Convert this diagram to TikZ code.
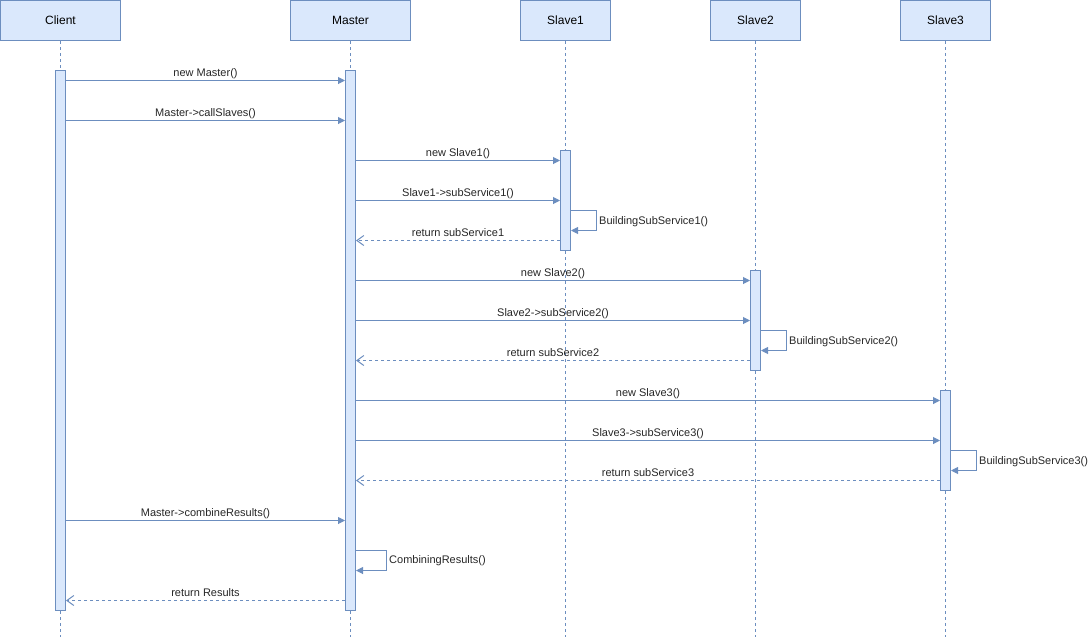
\documentclass[tikz,border=0pt]{standalone}
\usepackage{fontspec}
\setmainfont{Liberation Sans}
\usetikzlibrary{arrows.meta}
\definecolor{fillb}{HTML}{DAE8FC}
\definecolor{strokeb}{HTML}{6C8EBF}
\begin{document}
\begin{tikzpicture}[x=1pt,y=-1pt,
  head/.style={draw=strokeb, fill=fillb, line width=1pt, minimum height=40pt, inner sep=0pt, font=\fontsize{12}{14}\selectfont},
  act/.style={draw=strokeb, fill=fillb, line width=1pt, minimum width=10pt, inner sep=0pt},
  life/.style={draw=strokeb, line width=1pt, dash pattern=on 3pt off 3pt},
  msg/.style={draw=strokeb, line width=1pt, -{Triangle[length=7pt,width=7pt]}},
  ret/.style={draw=strokeb, line width=1pt, dash pattern=on 3pt off 3pt, -{Straight Barb[length=7pt,width=10pt]}},
  lbl/.style={font=\fontsize{11}{13}\selectfont, inner sep=0pt, anchor=base, text=black!85},
  slbl/.style={font=\fontsize{11}{13}\selectfont, inner sep=0pt, anchor=base west, text=black!85}
]
\useasboundingbox (0,0) rectangle (1089,641);
% headers
\node[head, minimum width=120pt] (client) at (60.5,20.5) {Client};
\node[head, minimum width=120pt] (master) at (350.5,20.5) {Master};
\node[head, minimum width=90pt] (slave1) at (565.5,20.5) {Slave1};
\node[head, minimum width=90pt] (slave2) at (755.5,20.5) {Slave2};
\node[head, minimum width=90pt] (slave3) at (945.5,20.5) {Slave3};
% lifelines
\foreach \n in {client,master,slave1,slave2,slave3}
  \draw[life] (\n.south) -- (\n.south |- 0,637);
% activations
\node[act, minimum height=540pt] (ca) at (60.5,340.5) {};
\node[act, minimum height=540pt] (ma) at (350.5,340.5) {};
\node[act, minimum height=100pt] (s1a) at (565.5,200.5) {};
\node[act, minimum height=100pt] (s2a) at (755.5,320.5) {};
\node[act, minimum height=100pt] (s3a) at (945.5,440.5) {};
% messages
\draw[msg] (ca.east |- 0,80.5) -- node[lbl, midway, yshift=4.5pt] {new Master()} (ma.west |- 0,80.5);
\draw[msg] (ca.east |- 0,120.5) -- node[lbl, midway, yshift=4.5pt] {Master->callSlaves()} (ma.west |- 0,120.5);
\draw[msg] (ma.east |- 0,160.5) -- node[lbl, midway, yshift=4.5pt] {new Slave1()} (s1a.west |- 0,160.5);
\draw[msg] (ma.east |- 0,200.5) -- node[lbl, midway, yshift=4.5pt] {Slave1->subService1()} (s1a.west |- 0,200.5);
\draw[msg] (s1a.east |- 0,210.5) -- ++(25,0) -- ++(0,20) -- (s1a.east |- 0,230.5);
\node[slbl] (b1) at (599,224.5) {BuildingSubService1()};
\draw[ret] (s1a.west |- 0,240.5) -- node[lbl, midway, yshift=4.5pt] {return subService1} (ma.east |- 0,240.5);
\draw[msg] (ma.east |- 0,280.5) -- node[lbl, midway, yshift=4.5pt] {new Slave2()} (s2a.west |- 0,280.5);
\draw[msg] (ma.east |- 0,320.5) -- node[lbl, midway, yshift=4.5pt] {Slave2->subService2()} (s2a.west |- 0,320.5);
\draw[msg] (s2a.east |- 0,330.5) -- ++(25,0) -- ++(0,20) -- (s2a.east |- 0,350.5);
\node[slbl] (b2) at (789,344.5) {BuildingSubService2()};
\draw[ret] (s2a.west |- 0,360.5) -- node[lbl, midway, yshift=4.5pt] {return subService2} (ma.east |- 0,360.5);
\draw[msg] (ma.east |- 0,400.5) -- node[lbl, midway, yshift=4.5pt] {new Slave3()} (s3a.west |- 0,400.5);
\draw[msg] (ma.east |- 0,440.5) -- node[lbl, midway, yshift=4.5pt] {Slave3->subService3()} (s3a.west |- 0,440.5);
\draw[msg] (s3a.east |- 0,450.5) -- ++(25,0) -- ++(0,20) -- (s3a.east |- 0,470.5);
\node[slbl] (b3) at (979,464.5) {BuildingSubService3()};
\draw[ret] (s3a.west |- 0,480.5) -- node[lbl, midway, yshift=4.5pt] {return subService3} (ma.east |- 0,480.5);
\draw[msg] (ca.east |- 0,520.5) -- node[lbl, midway, yshift=4.5pt] {Master->combineResults()} (ma.west |- 0,520.5);
\draw[msg] (ma.east |- 0,550.5) -- ++(30,0) -- ++(0,20) -- (ma.east |- 0,570.5);
\node[slbl] (cr) at (389,563.5) {CombiningResults()};
\draw[ret] (ma.west |- 0,600.5) -- node[lbl, midway, yshift=4.5pt] {return Results} (ca.east |- 0,600.5);
\end{tikzpicture}
\end{document}
